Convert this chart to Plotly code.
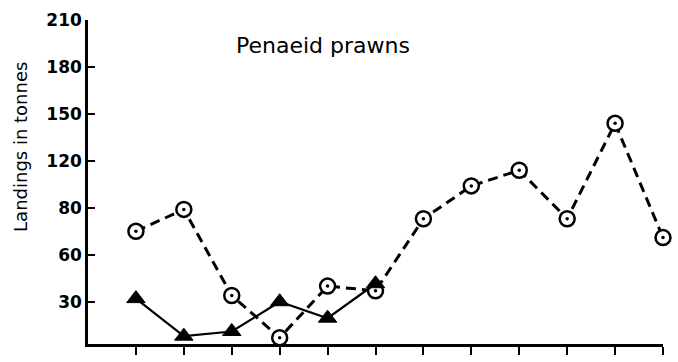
import plotly.graph_objects as go

# Monthly landings (tonnes), months 1..12
months = list(range(1, 13))
series_a = [75, 89, 34, 7, 40, 37, 83, 104, 114, 83, 144, 71]   # dashed line, dotted circles
months_b = list(range(1, 7))
series_b = [32, 8, 11, 30, 19.5, 41.5]                           # solid line, filled triangles

ytick_vals = [30, 60, 90, 120, 150, 180, 210]
ytick_text = ["30", "60", "80", "120", "150", "180", "210"]

W, H = 678, 362
L, R, T, B = 88, 15, 15, 10
pw, ph = W - L - R, H - T - B

def px(x):
    return (x - L) / pw

def py(y):
    return (H - B - y) / ph

fig = go.Figure()

# dashed series: line, then white circles, then centre dots
fig.add_trace(go.Scatter(
    x=months, y=series_a, mode="lines",
    line=dict(color="black", width=3, dash="10px,6px"),
    hoverinfo="skip", showlegend=False, cliponaxis=False))
fig.add_trace(go.Scatter(
    x=months, y=series_a, mode="markers",
    marker=dict(symbol="circle", size=15, color="white",
                line=dict(color="black", width=2.5)),
    showlegend=False, cliponaxis=False))
fig.add_trace(go.Scatter(
    x=months, y=series_a, mode="markers",
    marker=dict(symbol="circle", size=3.5, color="black", line=dict(width=0)),
    hoverinfo="skip", showlegend=False, cliponaxis=False))

# solid series with filled triangles
fig.add_trace(go.Scatter(
    x=months_b, y=series_b, mode="lines+markers",
    line=dict(color="black", width=2.2),
    marker=dict(symbol="triangle-up", size=16, color="black",
                line=dict(color="black", width=1)),
    showlegend=False, cliponaxis=False))

fig.update_xaxes(
    range=[0, 12], tickvals=months, showticklabels=False,
    ticks="outside", ticklen=8, tickwidth=2, tickcolor="black",
    showline=True, linecolor="black", linewidth=2.5,
    showgrid=False, zeroline=False)
fig.update_yaxes(
    range=[3, 210], tickvals=ytick_vals, ticktext=ytick_text,
    ticks="inside", ticklen=7, tickwidth=2, tickcolor="black",
    tickfont=dict(family="DejaVu Sans", size=17, color="black", weight="bold"),
    showline=True, linecolor="black", linewidth=2.5,
    showgrid=False, zeroline=False)

fig.add_annotation(
    text="Penaeid prawns", xref="paper", yref="paper",
    x=px(323), y=py(42), xanchor="center", yanchor="middle",
    showarrow=False,
    font=dict(family="DejaVu Sans", size=22, color="black"))
fig.add_annotation(
    text="Landings in tonnes", xref="paper", yref="paper",
    x=px(21), y=py(147), xanchor="center", yanchor="middle",
    textangle=-90, showarrow=False,
    font=dict(family="DejaVu Sans", size=18, color="black"))

fig.update_layout(
    width=W, height=H,
    margin=dict(l=L, r=R, t=T, b=B),
    paper_bgcolor="white", plot_bgcolor="white")

fig.write_html("out.html")
